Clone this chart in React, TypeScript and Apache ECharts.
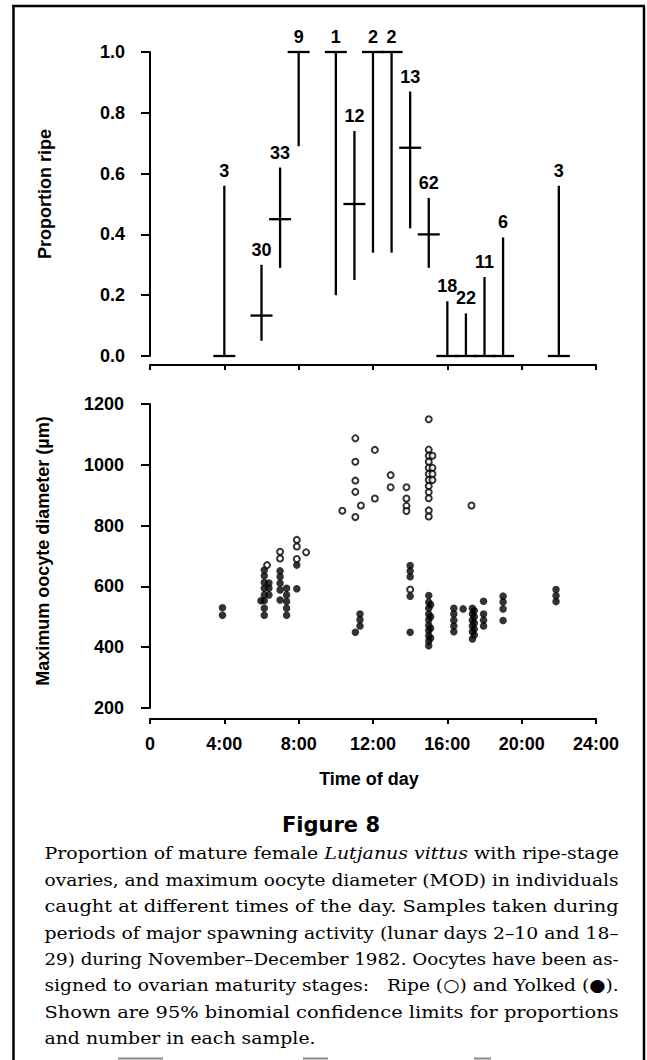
import React, { useEffect, useRef } from "react";
import * as echarts from "echarts";

// ---- Top panel: proportion ripe with 95% binomial limits ----
const sampleHours = [4, 6, 7, 8, 10, 11, 12, 13, 14, 15, 16, 17, 18, 19, 22];
const proportionRipe = [0, 0.133, 0.45, 1, 1, 0.5, 1, 1, 0.685, 0.4, 0, 0, 0, 0, 0];
const lowerLimit = [0, 0.05, 0.29, 0.69, 0.2, 0.25, 0.34, 0.34, 0.42, 0.29, 0, 0, 0, 0, 0];
const upperLimit = [0.56, 0.3, 0.62, 1, 1, 0.74, 1, 1, 0.87, 0.52, 0.18, 0.14, 0.26, 0.39, 0.56];
const sampleSize = [3, 30, 33, 9, 1, 12, 2, 2, 13, 62, 18, 22, 11, 6, 3];

// ---- Bottom panel: maximum oocyte diameter (µm) ----
const ripeHours = [
  6.3, 7.0, 7.0, 7.9, 7.9, 7.9, 8.4, 10.35,
  11.05, 11.05, 11.05, 11.05, 11.05, 11.35, 12.1, 12.1, 12.95, 12.95,
  13.8, 13.8, 13.8, 13.8, 14.0,
  15.0, 15.0, 15.0, 15.0, 15.0, 15.0, 15.0, 15.0, 15.0, 15.0, 15.0, 15.0,
  15.2, 15.2, 15.2, 15.2, 17.3,
];
const ripeDiameter = [
  670, 714, 692, 753, 731, 690, 712, 849,
  1087, 1010, 948, 911, 828, 866, 1049, 889, 966, 926,
  926, 889, 865, 848, 590,
  1150, 1050, 1030, 1010, 990, 970, 950, 930, 910, 890, 850, 830,
  1030, 990, 970, 950, 866,
];
const yolkedHours = [
  3.9, 3.9, 5.97,
  6.15, 6.15, 6.15, 6.15, 6.15, 6.15, 6.15, 6.15,
  6.4, 6.4, 6.4,
  7.0, 7.0, 7.0, 7.0, 7.0,
  7.35, 7.35, 7.35, 7.35, 7.35,
  7.9, 7.9,
  11.05, 11.3, 11.3, 11.3,
  14.0, 14.0, 14.0, 14.0, 14.0,
  15.0, 15.0, 15.0, 15.0, 15.0, 15.0, 15.0, 15.0, 15.0, 15.0,
  15.1, 15.1, 15.1, 15.1,
  16.35, 16.35, 16.35, 16.35, 16.35,
  16.85,
  17.35, 17.35, 17.35, 17.35, 17.35, 17.35,
  17.45, 17.45, 17.45, 17.45, 17.45,
  17.95, 17.95, 17.95, 17.95,
  19.0, 19.0, 19.0, 19.0,
  21.85, 21.85, 21.85,
];
const yolkedDiameter = [
  530, 505, 553,
  654, 635, 613, 594, 572, 553, 528, 505,
  611, 594, 572,
  651, 632, 610, 588, 555,
  594, 572, 550, 528, 505,
  670, 592,
  449, 509, 490, 470,
  669, 651, 632, 568, 449,
  570, 548, 528, 508, 490, 472, 455, 438, 420, 405,
  540, 500, 462, 430,
  528, 509, 489, 470, 451,
  526,
  528, 509, 489, 470, 451, 427,
  520, 500, 480, 460, 440,
  551, 509, 489, 470,
  568, 549, 526, 488,
  590, 569, 550,
];

const hourTickLabels = ["0", "4:00", "8:00", "12:00", "16:00", "20:00", "24:00"];

const figureTitle = "Figure 8";
const yTitleTop = "Proportion ripe";
const yTitleBottom = "Maximum oocyte diameter (µm)";
const xTitle = "Time of day";

type Seg = { t: string; i?: boolean };
const captionLines: Seg[][] = [
  [{ t: "Proportion of mature female " }, { t: "Lutjanus vittus", i: true }, { t: " with ripe-stage" }],
  [{ t: "ovaries, and maximum oocyte diameter (MOD) in individuals" }],
  [{ t: "caught at different times of the day. Samples taken during" }],
  [{ t: "periods of major spawning activity (lunar days 2–10 and 18–" }],
  [{ t: "29) during November–December 1982. Oocytes have been as-" }],
  [{ t: "signed to ovarian maturity stages:   Ripe (○) and Yolked (●)." }],
  [{ t: "Shown are 95% binomial confidence limits for proportions" }],
  [{ t: "and number in each sample." }],
];

const SANS = '"Liberation Sans", Arial, Helvetica, sans-serif';
const SERIF = '"DejaVu Serif", serif';
const CAP_SIZE = 17;

function buildCaption(): any[] {
  const canvas = document.createElement("canvas");
  const ctx = canvas.getContext("2d") as CanvasRenderingContext2D;
  const measure = (segs: Seg[]) => {
    let w = 0;
    for (const s of segs) {
      ctx.font = `${s.i ? "italic " : ""}${CAP_SIZE}px ${SERIF}`;
      w += ctx.measureText(s.t).width;
    }
    return w;
  };
  const left = 44.5;
  const width = 574.5;
  const scales = captionLines.map((segs) => width / measure(segs));
  const justified = scales.slice(0, scales.length - 1);
  const meanScale = justified.reduce((a, b) => a + b, 0) / justified.length;
  return captionLines.map((segs, idx) => {
    const sx = idx === captionLines.length - 1 ? meanScale : scales[idx];
    const text = segs.map((s) => `{${s.i ? "i" : "n"}|${s.t}}`).join("");
    return {
      type: "text",
      x: left,
      y: 853 + idx * 26.45,
      scaleX: sx,
      style: {
        text,
        align: "left",
        verticalAlign: "middle",
        fill: "#000",
        fontFamily: SERIF,
        fontSize: CAP_SIZE,
        rich: {
          n: { fontFamily: SERIF, fontSize: CAP_SIZE, fill: "#000" },
          i: { fontFamily: SERIF, fontSize: CAP_SIZE, fontStyle: "italic", fill: "#000" },
        },
      },
    };
  });
}

export default function App() {
  const ref = useRef<HTMLDivElement>(null);
  useEffect(() => {
    if (!ref.current) return;
    const chart = echarts.init(ref.current, undefined, { renderer: "svg" });
    const axisLine = { show: true, onZero: false, lineStyle: { color: "#000", width: 2 } };
    const tickLabel = { fontFamily: SANS, fontSize: 18, fontWeight: "bold" as const, color: "#000" };
    const errData = sampleHours.map((h, i) => [h, proportionRipe[i], lowerLimit[i], upperLimit[i], sampleSize[i]]);
    const frame = [
      { type: "line", shape: { x1: 12, y1: 6, x2: 645, y2: 6 }, style: { stroke: "#000", lineWidth: 2.5 } },
      { type: "line", shape: { x1: 13.5, y1: 6, x2: 13.5, y2: 1060 }, style: { stroke: "#000", lineWidth: 2.5 } },
      { type: "line", shape: { x1: 644, y1: 6, x2: 644, y2: 1060 }, style: { stroke: "#000", lineWidth: 2.5 } },
      { type: "line", shape: { x1: 118, y1: 1058.5, x2: 163, y2: 1058.5 }, style: { stroke: "#888", lineWidth: 2 } },
      { type: "line", shape: { x1: 303, y1: 1058.5, x2: 328, y2: 1058.5 }, style: { stroke: "#888", lineWidth: 2 } },
      { type: "line", shape: { x1: 474, y1: 1058.5, x2: 491, y2: 1058.5 }, style: { stroke: "#888", lineWidth: 2 } },
    ];
    const titleStyle = { fontFamily: SANS, fontSize: 18, fontWeight: "bold", fill: "#000", align: "center", verticalAlign: "middle" };
    const titles = [
      { type: "text", x: 45, y: 194, rotation: Math.PI / 2, style: { ...titleStyle, text: yTitleTop } },
      { type: "text", x: 43, y: 551, rotation: Math.PI / 2, style: { ...titleStyle, text: yTitleBottom } },
      { type: "text", x: 369, y: 779, style: { ...titleStyle, text: xTitle } },
      {
        type: "text", x: 331, y: 825,
        style: { text: figureTitle, fontFamily: '"DejaVu Sans", sans-serif', fontWeight: "bold", fontSize: 21, fill: "#000", align: "center", verticalAlign: "middle" },
      },
    ];
    chart.setOption({
      animation: false,
      backgroundColor: "#fff",
      grid: [
        { left: 150, top: 52, width: 446, height: 304 },
        { left: 150, top: 404, width: 446, height: 304 },
      ],
      xAxis: [
        {
          type: "value", gridIndex: 0, min: 0, max: 24, interval: 4, offset: 9,
          axisLine, axisTick: { show: true, length: 5, lineStyle: { color: "#000", width: 2 } },
          axisLabel: { show: false }, splitLine: { show: false },
        },
        {
          type: "value", gridIndex: 1, min: 0, max: 24, interval: 4, offset: 11,
          axisLine, axisTick: { show: true, length: 5, lineStyle: { color: "#000", width: 2 } },
          axisLabel: { ...tickLabel, margin: 16, formatter: (v: number) => hourTickLabels[Math.round(v / 4)] },
          splitLine: { show: false },
        },
      ],
      yAxis: [
        {
          type: "value", gridIndex: 0, min: 0, max: 1, interval: 0.2,
          axisLine, axisTick: { show: true, length: 9, lineStyle: { color: "#000", width: 2 } },
          axisLabel: { ...tickLabel, margin: 25, formatter: (v: number) => v.toFixed(1) },
          splitLine: { show: false },
        },
        {
          type: "value", gridIndex: 1, min: 200, max: 1200, interval: 200,
          axisLine, axisTick: { show: true, length: 9, lineStyle: { color: "#000", width: 2 } },
          axisLabel: { ...tickLabel, margin: 26, formatter: (v: number) => String(v) },
          splitLine: { show: false },
        },
      ],
      series: [
        {
          type: "custom",
          xAxisIndex: 0,
          yAxisIndex: 0,
          data: errData,
          encode: { x: 0, y: [1, 2, 3] },
          renderItem: (params: any, api: any) => {
            const x = api.value(0);
            const top = api.coord([x, api.value(3)]);
            const bot = api.coord([x, api.value(2)]);
            const mid = api.coord([x, api.value(1)]);
            return {
              type: "group",
              children: [
                { type: "line", shape: { x1: top[0], y1: top[1], x2: bot[0], y2: bot[1] }, style: { stroke: "#000", lineWidth: 2.3 } },
                { type: "line", shape: { x1: mid[0] - 11, y1: mid[1], x2: mid[0] + 11, y2: mid[1] }, style: { stroke: "#000", lineWidth: 2.3 } },
                {
                  type: "text", x: top[0], y: top[1] - 15,
                  style: { text: String(api.value(4)), fontFamily: SANS, fontWeight: "bold", fontSize: 18, fill: "#000", align: "center", verticalAlign: "middle" },
                },
              ],
            };
          },
        },
        {
          type: "scatter",
          xAxisIndex: 1,
          yAxisIndex: 1,
          data: yolkedHours.map((h, i) => [h, yolkedDiameter[i]]),
          symbol: "circle",
          symbolSize: 7.5,
          itemStyle: { color: "#000" },
        },
        {
          type: "scatter",
          xAxisIndex: 1,
          yAxisIndex: 1,
          data: ripeHours.map((h, i) => [h, ripeDiameter[i]]),
          symbol: "circle",
          symbolSize: 6,
          itemStyle: { color: "#fff", borderColor: "#000", borderWidth: 2 },
        },
      ],
      graphic: [...frame, ...titles, ...buildCaption()],
    });
    return () => chart.dispose();
  }, []);
  return <div ref={ref} style={{ position: "fixed", left: 0, top: 0, width: 647, height: 1060, background: "#fff" }} />;
}
